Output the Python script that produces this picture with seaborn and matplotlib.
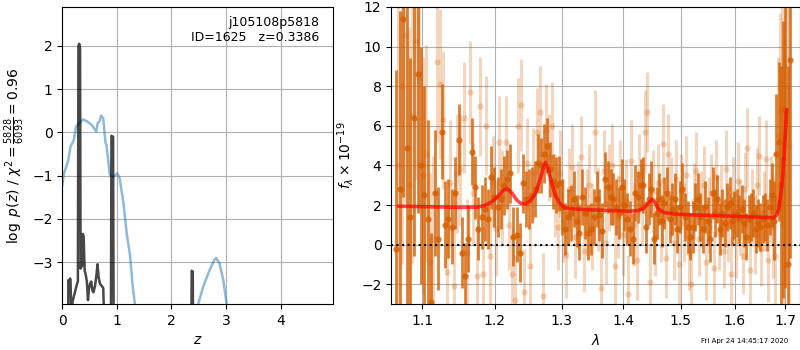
import numpy as np
import pandas as pd
import matplotlib
matplotlib.use("Agg")
import matplotlib.pyplot as plt
import seaborn as sns
from matplotlib.ticker import NullLocator, FixedLocator, FixedFormatter

# ---------------- left panel data: redshift fit ----------------
chi_z = [0.0, 0.03, 0.07, 0.11, 0.15, 0.21, 0.25, 0.29, 0.38, 0.46, 0.54, 0.62, 0.65,
         0.68, 0.71, 0.75, 0.79, 0.81, 0.87, 0.93, 1.01, 1.05, 1.12, 1.18, 1.24, 1.29,
         1.33, 1.36, 2.45, 2.49, 2.58, 2.70, 2.79, 2.82, 2.88, 2.95, 3.01, 3.05]
chi_val = [-1.22, -0.95, -0.80, -0.64, -0.33, -0.18, 0.13, 0.19, 0.30, 0.25, 0.17, 0.02, 0.22,
           0.25, 0.39, 0.32, -0.24, -0.29, -0.99, -1.03, -0.95, -1.06, -1.64, -2.34, -2.84, -3.57,
           -3.97, -4.5, -4.5, -3.97, -3.57, -3.18, -2.94, -2.91, -3.03, -3.42, -3.97, -4.5]

pz_z = [0.0, 0.105, 0.11, 0.125, 0.14, 0.15, 0.165, 0.175, 0.19, 0.22, 0.25, 0.27, 0.285,
        0.295, 0.31, 0.325, 0.335, 0.345, 0.36, 0.375, 0.39, 0.41, 0.43, 0.45, 0.47, 0.49,
        0.51, 0.53, 0.55, 0.57, 0.60, 0.625, 0.645, 0.665, 0.69, 0.72, 0.75, 0.77, 0.80,
        0.88, 0.89, 0.90, 0.92, 0.93, 0.94, 1.0, 2.30, 2.365, 2.37, 2.39, 2.395, 2.45, 5.0]
pz_val = [-8, -8, -3.42, -3.45, -3.38, -3.40, -4.3, -4.1, -3.9, -3.75, -3.6, -3.5, -3.45,
          2.0, 2.05, 1.95, -3.15, -3.0, -3.1, -2.35, -2.4, -3.2, -3.3, -3.45, -3.88, -3.6,
          -3.5, -3.45, -3.65, -3.7, -3.55, -3.3, -3.05, -3.35, -3.5, -3.55, -3.6, -4.5, -8,
          -8, -4.5, -0.08, -0.10, -0.10, -4.5, -8, -8, -4.5, -3.2, -3.22, -4.5, -8, -8]

obj_name = "j105108p5818"
obj_id = 1625
z_best = 0.3386
chi2_num, chi2_den, chi2_red = 5828, 6093, 0.96

# ---------------- right panel data: spectrum ----------------
dark_wave0, dark_dwave, n_dark = 1.066, 0.0046, 141
dark_flux = [-0.2, 2.8, 11.4, 4.9, 1.4, 6.4, 8.6, 4.0, 2.5, 1.3, -2.9, 2.6, 0.3, 5.7, 1.0, 1.3, 0.9, 2.6, 5.3,
             -0.4, -1.6, 0.3, 4.7, 2.9, 0.8, 1.4, 1.8, 1.3, 3.4, 2.4, 1.9, 2.3, 3.0, 3.3, 3.6, 0.4, 0.5, -0.4, 3.1, 2.3,
             2.3, 2.5, 2.8, 4.1, 4.0, 4.6, 5.0, 3.8, 3.2, 3.0, 3.1, 1.9, 0.8, 1.4, 1.6, 2.3, 1.2, 0.6, 2.4, 1.6, 0.6, 0.8, 1.4,
             2.3, 1.5, 0.7, 3.3, 2.9, 2.4, 2.3, 1.9, 1.6, 2.9, 2.0, 1.3, 0.8, 0.3, 2.6, 2.4, 3.0, 3.0, 0.9, 2.3, 2.8, 0.3, 1.6, 2.3, 1.2,
             2.1, 2.6, 1.3, 1.8, 2.3, 0.8, 1.9, 2.8, 1.4, 0.9, 0.4, 0.9, 1.9, 2.3, 1.4, 0.8, 1.9, 1.2, 0.3, 2.6, 1.6, 2.3, 0.8, 1.6, 1.1, 1.9, 2.1, 1.2, 1.5,
             1.6, 1.3, 1.8, 1.1, 0.4, 1.3, 1.4, 1.6, 0.8, 1.1, 0.9, 1.3, 1.4, 1.0, 1.9, 2.5, 1.2, 4.6, 5.2, 3.0, 4.3, 6.8, -1.0, 9.3]
dark_err = [9, 9, 9, 8, 8, 7, 7, 6, 5.5, 5, 3.5, 3.2, 2.6, 2.4, 2.2, 2.0, 1.9, 1.8, 1.8,
            1.8, 1.7, 1.7, 1.7, 1.6, 1.6, 1.6, 1.6, 1.5, 1.6, 1.5, 1.5, 1.5, 1.5, 1.5, 1.5, 1.5, 1.4, 1.5, 1.5, 1.4,
            1.5, 1.4, 1.4, 1.5, 1.4, 1.5, 1.4, 1.4, 1.4, 1.4, 1.4, 1.4, 1.3, 1.4, 1.4, 1.4, 1.3, 1.4, 1.4, 1.3, 1.4, 1.3, 1.4,
            1.4, 1.3, 1.4, 1.4, 1.3, 1.4, 1.3, 1.4, 1.3, 1.4, 1.3, 1.3, 1.4, 1.3, 1.4, 1.3, 1.3, 1.4, 1.3, 1.3, 1.4, 1.3, 1.3, 1.3, 1.3,
            1.3, 1.3, 1.2, 1.3, 1.3, 1.2, 1.3, 1.3, 1.2, 1.3, 1.2, 1.3, 1.2, 1.3, 1.2, 1.2, 1.3, 1.2, 1.2, 1.3, 1.2, 1.2, 1.3, 1.2, 1.2, 1.2, 1.3, 1.2, 1.2,
            1.2, 1.2, 1.2, 1.2, 1.2, 1.2, 1.2, 1.2, 1.2, 1.2, 1.2, 1.2, 1.2, 1.3, 1.4, 1.6, 2.0, 3.0, 4.0, 6.0, 7.0, 9.0, 10.0, 10.0]

light_wave0, light_dwave, n_light = 1.0683, 0.0046, 140
light_flux = [4.0, 8.0, 10.6, 3.0, 6.5, 10.3, 8.4, 3.5, 4.6, -0.9,
              0.3, 9.2, 8.1, 6.3, -1.4, 3.1, -2.1, 3.6, 3.8, 6.4,
              -0.4, 7.7, 2.6, -1.6, 7.0, -1.5, 6.0, -0.6, 3.2, 0.8,
              5.2, 2.4, 5.2, 1.0, -1.5, -2.8, 6.0, 7.05, -2.4, 4.1,
              -1.1, 3.6, 5.7, 6.7, -2.6, 5.8, 4.4, 6.0, 2.5, 0.9,
              3.6, 1.2, -0.5, 2.8, 3.9, 0.4, 2.0, 4.4, -0.3, 1.6,
              3.0, 0.9, 5.7, 1.8, -2.2, 3.7, 0.1, 2.9, 4.0, -1.1,
              1.4, 3.3, 0.5, 2.2, -2.5, 4.2, 1.0, -0.8, 3.5, 2.0,
              5.7, 6.7, -1.9, 2.7, 0.4, 3.1, 1.2, 5.1, -0.7, 4.6,
              2.4, 0.1, 3.3, -1.0, 2.7, 1.1, 3.5, -0.4, -2.0, 2.2,
              3.7, 0.3, 1.8, 3.0, -0.9, 1.5, 2.6, -1.2, 3.4, 0.6,
              2.1, -0.3, 3.8, 1.0, -1.5, 2.5, 0.2, 3.2, 1.4, -0.6,
              2.8, 4.9, -1.3, 1.9, 0.5, 3.0, 4.5, -0.2, 1.7, 4.3,
              -0.8, 2.3, 0.9, -0.6, 5.5, 6.7, 6.9, 3.5, 8.0, 5.0]
light_err = [9, 9, 8.5, 8, 7.5, 7, 6.5, 6, 5.5, 4.5,
             4.2, 4.0, 3.8, 3.5, 3.4, 3.2, 3.0, 3.0, 2.8, 2.8,
             2.7, 2.6, 2.6, 2.5, 2.5, 2.4, 2.5, 2.4, 2.3, 2.4,
             2.3, 2.4, 2.3, 2.3, 2.4, 2.3, 2.4, 2.3, 2.2, 2.3,
             2.2, 2.3, 2.2, 2.3, 2.2, 2.3, 2.2, 2.2, 2.1, 2.2,
             2.2, 2.1, 2.2, 2.1, 2.2, 2.1, 2.2, 2.1, 2.1, 2.2,
             2.1, 2.2, 2.1, 2.1, 2.2, 2.1, 2.1, 2.2, 2.1, 2.1,
             2.1, 2.0, 2.1, 2.1, 2.0, 2.1, 2.1, 2.0, 2.1, 2.0,
             2.1, 2.0, 2.0, 2.1, 2.0, 2.0, 2.1, 2.0, 2.0, 2.0,
             2.0, 1.9, 2.0, 2.0, 1.9, 2.0, 2.0, 1.9, 2.0, 1.9,
             2.0, 1.9, 1.9, 2.0, 1.9, 1.9, 2.0, 1.9, 1.9, 1.9,
             1.9, 1.9, 2.0, 1.9, 1.9, 1.9, 1.9, 2.0, 1.9, 1.9,
             1.9, 2.0, 1.9, 1.9, 2.0, 1.9, 2.0, 1.9, 2.0, 2.0,
             2.1, 2.2, 2.6, 3.2, 4.0, 5.0, 6.0, 7.0, 8.0, 9.0]

model_wave = [1.069, 1.10, 1.15, 1.175, 1.185, 1.195, 1.205, 1.212, 1.218, 1.225, 1.232, 1.238,
              1.245, 1.252, 1.26, 1.267, 1.272, 1.275, 1.279, 1.284, 1.29, 1.297, 1.305, 1.32,
              1.35, 1.38, 1.41, 1.425, 1.435, 1.443, 1.449, 1.454, 1.46, 1.47, 1.49, 1.52,
              1.56, 1.60, 1.64, 1.676, 1.682, 1.687, 1.691, 1.695, 1.698, 1.701, 1.703]
model_flux = [1.94, 1.92, 1.88, 1.89, 1.97, 2.15, 2.45, 2.75, 2.82, 2.6, 2.25, 2.08,
              2.05, 2.2, 2.6, 3.3, 3.9, 4.15, 3.85, 3.2, 2.5, 2.1, 1.86, 1.8,
              1.75, 1.72, 1.69, 1.72, 1.85, 2.1, 2.28, 2.15, 1.8, 1.62, 1.54, 1.5,
              1.47, 1.43, 1.4, 1.35, 1.45, 1.8, 2.5, 3.4, 4.6, 5.8, 6.8]

wave_ticks = [1.1, 1.2, 1.3, 1.4, 1.5, 1.6, 1.7]
timestamp = "Fri Apr 24 14:45:17 2020"

dark_wave = dark_wave0 + dark_dwave * np.arange(n_dark)
light_wave = light_wave0 + light_dwave * np.arange(n_light)

# ---------------- figure ----------------
fig = plt.figure(figsize=(8, 3.5), dpi=100)
ax1 = fig.add_axes([0.0779, 0.1314, 0.3384, 0.8486])
ax2 = fig.add_axes([0.4891, 0.1314, 0.5105, 0.8486])

# left panel
sns.lineplot(x=chi_z, y=chi_val, ax=ax1, color="#1f77b4", alpha=0.5, linewidth=1.8,
             sort=False, estimator=None)
sns.lineplot(x=pz_z, y=pz_val, ax=ax1, color="k", alpha=0.72, linewidth=1.8,
             sort=False, estimator=None)
ax1.set_xlim(0, 4.96)
ax1.set_ylim(-3.97, 2.9)
ax1.set_xticks([0, 1, 2, 3, 4])
ax1.set_yticks([-3, -2, -1, 0, 1, 2])
ax1.grid(True)
ax1.set_xlabel(r"$z$")
ax1.set_ylabel(r"$\log\ p(z)$ / $\chi^2=\frac{%d}{%d}=%.2f$" % (chi2_num, chi2_den, chi2_red))
ax1.text(0.95, 0.97, "%s\nID=%d   z=%.4f" % (obj_name, obj_id, z_best), transform=ax1.transAxes,
         ha="right", va="top", fontsize=9)

# right panel
base = "#D55E00"
ax2.errorbar(light_wave, light_flux, yerr=light_err, fmt="o", color=base, alpha=0.25,
             markersize=4.5, elinewidth=2.2, capsize=0, markeredgewidth=0)
ax2.errorbar(dark_wave, dark_flux, yerr=dark_err, fmt="o", color=base, alpha=0.8,
             markersize=4.5, elinewidth=2.0, capsize=0, markeredgewidth=0)
sns.lineplot(x=model_wave, y=model_flux, ax=ax2, color="r", alpha=0.7, linewidth=2.6,
             sort=False, estimator=None, zorder=5)
ax2.axhline(0, color="k", linestyle=":", linewidth=1.5, zorder=6)
ax2.set_xscale("log")
ax2.set_xlim(1.0597, 1.730)
ax2.set_ylim(-3, 12)
ax2.xaxis.set_major_locator(FixedLocator(wave_ticks))
ax2.xaxis.set_major_formatter(FixedFormatter(["%.1f" % w for w in wave_ticks]))
ax2.xaxis.set_minor_locator(NullLocator())
ax2.set_yticks([-2, 0, 2, 4, 6, 8, 10, 12])
ax2.grid(True)
ax2.set_xlabel(r"$\lambda$")
ax2.set_ylabel(r"$f_\lambda\times10^{-19}$")

fig.text(0.985, 0.018, timestamp, ha="right", va="bottom", fontsize=5)

fig.savefig("out.png", dpi=100)
